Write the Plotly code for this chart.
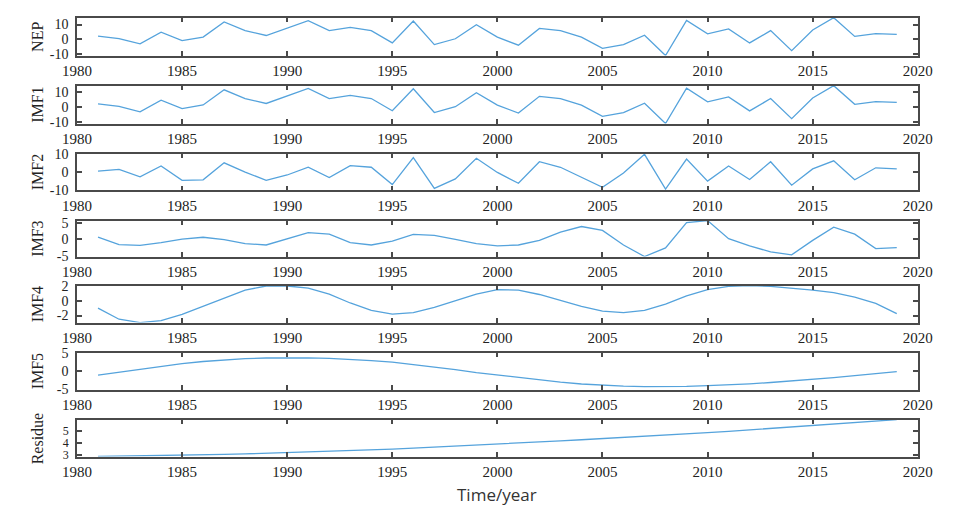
import plotly.graph_objects as go

years = list(range(1981, 2020))

nep = [2.2, 0.5, -3.0, 4.8, -0.9, 1.5, 11.7, 5.9, 2.6, 7.4, 12.6, 5.9, 8.0, 5.9, -2.4, 12.4, -3.5, 0.4, 9.8,
       1.5, -3.9, 7.4, 5.9, 1.5, -6.1, -3.5, 2.8, -10.9, 12.8, 3.7, 7.0, -2.4, 5.9, -7.6, 6.3, 14.6, 2.0, 3.9, 3.3]
imf1 = [2.3, 0.6, -3.0, 4.8, -0.9, 1.6, 11.8, 5.9, 2.6, 7.4, 12.7, 5.9, 8.0, 5.9, -2.3, 12.5, -3.5, 0.4, 9.8,
        1.5, -3.9, 7.4, 5.9, 1.5, -6.1, -3.5, 2.8, -10.9, 12.9, 3.7, 7.0, -2.4, 5.9, -7.6, 6.3, 14.6, 2.0, 3.9, 3.3]
imf2 = [0.5, 1.4, -2.6, 3.3, -4.5, -4.2, 5.0, 0.0, -4.5, -1.6, 2.6, -3.0, 3.5, 2.6, -6.8, 7.8, -8.9, -3.7, 7.5,
        -0.2, -6.1, 5.6, 2.6, -2.8, -8.3, -0.5, 9.6, -9.2, 7.0, -4.9, 3.3, -4.0, 5.6, -7.1, 1.7, 6.1, -4.2, 2.3, 1.7]
imf3 = [0.65, -1.6, -1.85, -1.0, 0.1, 0.65, -0.1, -1.3, -1.7, 0.1, 2.05, 1.6, -1.0, -1.7, -0.5, 1.5, 1.2, 0.0, -1.3,
        -1.95, -1.7, -0.3, 2.2, 3.9, 2.7, -1.7, -5.2, -2.6, 5.1, 5.7, 0.2, -1.95, -3.8, -4.7, -0.3, 3.7, 1.6, -2.8, -2.5]
imf4 = [-1.0, -2.5, -2.95, -2.7, -1.85, -0.75, 0.4, 1.45, 2.0, 2.0, 1.7, 0.9, -0.3, -1.3, -1.8, -1.6, -0.9, 0.0, 0.9,
        1.5, 1.45, 0.85, 0.0, -0.75, -1.4, -1.6, -1.3, -0.45, 0.65, 1.5, 1.95, 2.05, 1.95, 1.75, 1.45, 1.1, 0.5, -0.35, -1.75]
imf5 = [-1.1, -0.3, 0.5, 1.3, 2.0, 2.6, 3.0, 3.35, 3.55, 3.65, 3.6, 3.45, 3.2, 2.85, 2.4, 1.8, 1.1, 0.4, -0.4,
        -1.1, -1.8, -2.4, -3.0, -3.5, -3.85, -4.1, -4.2, -4.25, -4.15, -3.95, -3.75, -3.45, -3.1, -2.7, -2.25, -1.75, -1.25, -0.7, -0.15]
residue = [2.87, 2.89, 2.91, 2.93, 2.96, 3.0, 3.04, 3.09, 3.14, 3.2, 3.25, 3.31, 3.37, 3.43, 3.49, 3.56, 3.64, 3.72, 3.81,
           3.9, 3.99, 4.08, 4.17, 4.26, 4.35, 4.45, 4.55, 4.65, 4.75, 4.85, 4.96, 5.08, 5.2, 5.32, 5.45, 5.57, 5.69, 5.81, 5.93]

names = ["NEP", "IMF1", "IMF2", "IMF3", "IMF4", "IMF5", "Residue"]
series = [nep, imf1, imf2, imf3, imf4, imf5, residue]
yticks = [[-10, 0, 10], [-10, 0, 10], [-10, 0, 10], [-5, 0, 5], [-2, 0, 2], [-5, 0, 5], [3, 4, 5]]
xticks = [1980, 1985, 1990, 1995, 2000, 2005, 2010, 2015, 2020]

W, H = 957, 515
panels = [(11, 50), (81, 120), (151, 189), (220, 257), (287, 325), (356, 394), (425, 463)]
x_left, x_right = 64, 932

fixed_ranges = {2: [-10, 10], 5: [-5, 5]}

fig = go.Figure()
axcol = "#4a4a4a"
serif = "Liberation Serif, Times New Roman, serif"
xtickfont = dict(family=serif, size=15, color="#222")
for i, (name, vals) in enumerate(zip(names, series)):
    k = i + 1
    xa = "x" if k == 1 else f"x{k}"
    ya = "y" if k == 1 else f"y{k}"
    fig.add_trace(go.Scatter(x=years, y=vals, mode="lines", xaxis=xa, yaxis=ya,
                             line=dict(color="#55a3dc", width=1.3), showlegend=False))
    top, bot = panels[i]
    lo, hi = min(vals), max(vals)
    yr = fixed_ranges.get(i, [lo, hi])
    ytickfont = dict(family=serif, size=12 if i == 6 else 14, color="#222")
    fig.layout[f"xaxis{'' if k == 1 else k}"] = dict(
        domain=[x_left / W, x_right / W], anchor=ya, range=[1980, 2020],
        tickvals=xticks, ticks="inside", ticklen=5, tickwidth=1.5, tickcolor=axcol,
        showline=True, linecolor=axcol, linewidth=1.5, mirror="ticks",
        showgrid=False, zeroline=False, tickfont=xtickfont, ticklabelstandoff=1)
    fig.layout[f"yaxis{'' if k == 1 else k}"] = dict(
        domain=[1 - bot / H, 1 - top / H], anchor=xa, range=yr,
        tickvals=yticks[i], ticktext=[str(v) for v in yticks[i]],
        ticks="inside", ticklen=5, tickwidth=1.5, tickcolor=axcol,
        showline=True, linecolor=axcol, linewidth=1.5, mirror="ticks",
        showgrid=False, zeroline=False, tickfont=ytickfont, ticklabelstandoff=4)
    fig.add_annotation(text=name, textangle=-90, xref="paper", yref="paper",
                       x=23 / W, y=1 - (top + bot) / 2 / H, xanchor="center", yanchor="middle",
                       showarrow=False, font=dict(family=serif, size=16, color="#222"))

fig.add_annotation(text="Time/year", xref="paper", yref="paper", x=(x_left + x_right) / 2 / W,
                   y=1 - 502 / H, xanchor="center", yanchor="middle", showarrow=False,
                   font=dict(family="Open Sans, sans-serif", size=17, color="#333"))

fig.update_layout(width=W, height=H, margin=dict(l=0, r=0, t=0, b=0),
                  paper_bgcolor="white", plot_bgcolor="white")
fig.write_html("out.html", config={"displayModeBar": False},
               post_script="document.body.style.margin='0';document.body.style.overflow='hidden';")
